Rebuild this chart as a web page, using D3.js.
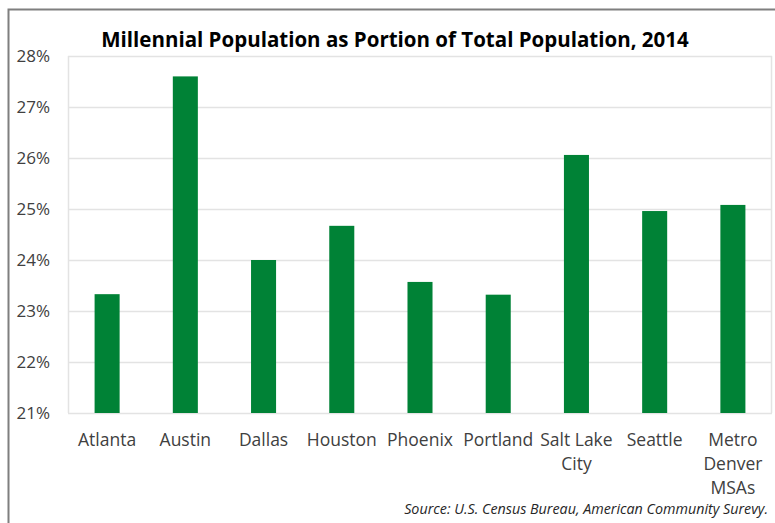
<!DOCTYPE html>
<html>
<head>
<meta charset="utf-8">
<script src="https://cdn.jsdelivr.net/npm/d3@7"></script>
<style>
  body { margin: 0; background: #fff; }
  svg { display: block; font-family: "Open Sans", sans-serif; }
</style>
</head>
<body>
<div id="chart"></div>
<script>
// Data
var cities = ["Atlanta", "Austin", "Dallas", "Houston", "Phoenix", "Portland", "Salt Lake City", "Seattle", "Metro Denver MSAs"];
var cityLines = [["Atlanta"], ["Austin"], ["Dallas"], ["Houston"], ["Phoenix"], ["Portland"], ["Salt Lake", "City"], ["Seattle"], ["Metro", "Denver", "MSAs"]];
var shares = [23.33, 27.6, 24.0, 24.67, 23.57, 23.32, 26.06, 24.96, 25.08];
var yTicks = [21, 22, 23, 24, 25, 26, 27, 28];

var W = 775, H = 523;
var margin = { top: 56, right: 3, bottom: 110, left: 68 },
  width = W - margin.left - margin.right,
  height = H - margin.top - margin.bottom;

var svg = d3.select("#chart").append("svg")
  .attr("width", W)
  .attr("height", H);

// outer frame (cropped at right and bottom)
svg.append("path")
  .attr("d", "M8.5," + H + " V9.5 H" + W)
  .attr("fill", "none")
  .attr("stroke", "#7f7f7f")
  .attr("stroke-width", 2);

var g = svg.append("g")
  .attr("transform", "translate(" + margin.left + "," + margin.top + ")");

var x = d3.scaleBand().domain(cities).range([0, width]).paddingInner(0.68).paddingOuter(0.34);
var y = d3.scaleLinear().domain([21, 28]).range([height, 0]);

// gridlines
g.selectAll(".grid").data(yTicks).enter().append("line")
  .attr("x1", 0).attr("x2", width)
  .attr("y1", function (d) { return Math.round(y(d)) + 0.5; })
  .attr("y2", function (d) { return Math.round(y(d)) + 0.5; })
  .attr("stroke", "#e3e3e3")
  .attr("stroke-width", 1.5);

// plot border sides
g.append("line").attr("x1", 0.5).attr("x2", 0.5).attr("y1", y(28)).attr("y2", y(21))
  .attr("stroke", "#e3e3e3").attr("stroke-width", 1.5);
g.append("line").attr("x1", width - 0.5).attr("x2", width - 0.5).attr("y1", y(28)).attr("y2", y(21))
  .attr("stroke", "#e3e3e3").attr("stroke-width", 1.5);

// bars
g.selectAll("rect.bar").data(cities).enter().append("rect")
  .attr("class", "bar")
  .attr("x", function (d) { return x(d); })
  .attr("width", x.bandwidth())
  .attr("y", function (d, i) { return y(shares[i]); })
  .attr("height", function (d, i) { return y(21) - y(shares[i]); })
  .attr("fill", "#008236");

// y axis
var yAxis = d3.axisLeft(y).tickValues(yTicks).tickSize(0).tickPadding(18)
  .tickFormat(function (d) { return d + "%"; });
var ya = g.append("g").call(yAxis);
ya.select(".domain").remove();
ya.selectAll("text").attr("font-size", 17).attr("fill", "#404040").attr("font-family", "'Open Sans', sans-serif");

// x axis labels (multi-line)
var xa = g.append("g").attr("transform", "translate(0," + height + ")");
cities.forEach(function (c, i) {
  var t = xa.append("text")
    .attr("x", x(c) + x.bandwidth() / 2)
    .attr("y", 33)
    .attr("text-anchor", "middle")
    .attr("font-size", 17.5)
    .attr("fill", "#404040");
  cityLines[i].forEach(function (line, k) {
    t.append("tspan")
      .attr("x", x(c) + x.bandwidth() / 2)
      .attr("dy", k === 0 ? 0 : 24)
      .text(line);
  });
});

// title
svg.append("text")
  .attr("x", 395)
  .attr("y", 47)
  .attr("text-anchor", "middle")
  .attr("font-size", 20.5)
  .attr("font-weight", "bold")
  .attr("fill", "#000")
  .text("Millennial Population as Portion of Total Population, 2014");

// source note
svg.append("text")
  .attr("x", 768)
  .attr("y", 514)
  .attr("text-anchor", "end")
  .attr("font-size", 14.3)
  .attr("font-style", "italic")
  .attr("fill", "#262626")
  .text("Source: U.S. Census Bureau, American Community Surevy.");
</script>
</body>
</html>
